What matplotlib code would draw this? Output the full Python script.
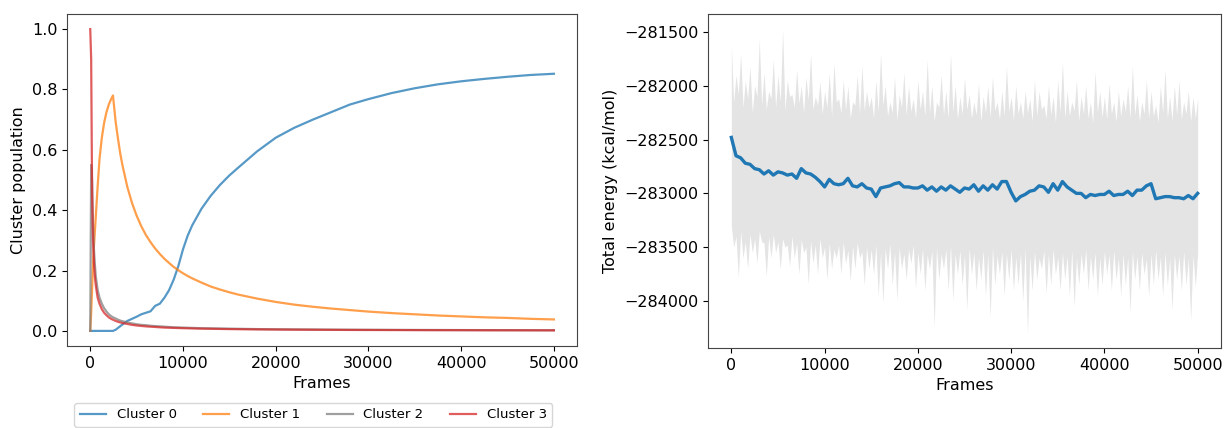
import numpy as np
import matplotlib
matplotlib.use("Agg")
from matplotlib import pyplot as plt

# ---- left panel: cluster populations vs frames ----
pop_frames = [0, 100, 200, 300, 400, 500, 600, 800, 1000, 1250, 1500, 1750, 2000, 2250, 2450,
              2750, 3000, 3250, 3500,
              4000, 4500, 5000, 5500, 6000, 6500, 7000, 7500, 8000, 8500, 9000, 9500, 10000,
              10500, 11000, 12000, 13000, 14000, 15000, 16000,
              18000, 20000, 22000, 24000, 26000, 28000, 30000,
              32500, 35000, 37500, 40000, 42500, 45000, 47500, 50000]

cluster0 = [0, 0, 0, 0, 0, 0, 0, 0, 0, 0, 0, 0, 0, 0, 0,
            0.004, 0.01, 0.016, 0.022,
            0.033, 0.04, 0.047, 0.055, 0.06, 0.065, 0.083, 0.09, 0.11, 0.135, 0.17, 0.215, 0.27,
            0.315, 0.35, 0.405, 0.448, 0.484, 0.515, 0.542,
            0.595, 0.64, 0.673, 0.70, 0.725, 0.75, 0.768,
            0.788, 0.804, 0.817, 0.827, 0.835, 0.842, 0.848, 0.852]

cluster1 = [0, 0.06, 0.14, 0.22, 0.28, 0.33, 0.38, 0.48, 0.57, 0.64, 0.69, 0.725, 0.75, 0.768, 0.78,
            0.69, 0.635, 0.585, 0.545,
            0.477, 0.424, 0.382, 0.347, 0.318, 0.294, 0.273, 0.255, 0.239, 0.225, 0.212, 0.201, 0.191,
            0.182, 0.174, 0.16, 0.147, 0.137, 0.128, 0.12,
            0.107, 0.096, 0.087, 0.08, 0.074, 0.069, 0.064,
            0.059, 0.055, 0.051, 0.048, 0.045, 0.043, 0.04, 0.038]

cluster2 = [0, 0.55, 0.5, 0.35, 0.27, 0.22, 0.18, 0.135, 0.11, 0.09, 0.075, 0.064, 0.055, 0.049, 0.045,
            0.041, 0.037, 0.034, 0.032,
            0.028, 0.025, 0.022, 0.02, 0.019, 0.017, 0.016, 0.015, 0.014, 0.013, 0.012, 0.0115, 0.011,
            0.0105, 0.01, 0.009, 0.0085, 0.008, 0.0075, 0.007,
            0.006, 0.0055, 0.005, 0.0046, 0.0042, 0.0039, 0.0037,
            0.0034, 0.0032, 0.003, 0.0028, 0.0026, 0.0025, 0.0023, 0.0022]

cluster3 = [1.0, 0.9, 0.45, 0.3, 0.225, 0.18, 0.15, 0.11, 0.09, 0.072, 0.06, 0.052, 0.045, 0.04, 0.037,
            0.033, 0.03, 0.028, 0.026,
            0.023, 0.02, 0.018, 0.0165, 0.015, 0.014, 0.013, 0.012, 0.011, 0.0105, 0.01, 0.0095, 0.009,
            0.0086, 0.0082, 0.0075, 0.007, 0.0065, 0.006, 0.0056,
            0.005, 0.0045, 0.0041, 0.0038, 0.0035, 0.0032, 0.003,
            0.0028, 0.0026, 0.0024, 0.0023, 0.0021, 0.002, 0.0019, 0.0018]

cluster_labels = ['Cluster 0', 'Cluster 1', 'Cluster 2', 'Cluster 3']

# ---- right panel: total energy ----
# spikes of the raw trace (tops at 0,500,..  bottoms at 250,750,..)
raw_top = [-281640, -281900, -281700, -281950, -281820, -282000, -281570, -281880, -282050, -281760,
           -281900, -281480, -281950, -282080, -281850, -282000, -281920, -281700, -282100, -281960,
           -282050, -281880, -281790, -282120, -281950, -282000, -282150, -281900, -281810, -282050,
           -282100, -281950, -281700, -282000, -282150, -281920, -282080, -281880, -282000, -282120,
           -281950, -282050, -281760, -282000, -282150, -281900, -282050, -281700, -282000, -282100,
           -281930, -282080, -282150, -281980, -282100, -282000, -281920, -282150, -282050, -281820,
           -282100, -282000, -282150, -282050, -282120, -281950, -282050, -282180, -282000, -282100,
           -281950, -281780, -282050, -282150, -281950, -282100, -282000, -282150, -281870, -282050,
           -282100, -281980, -282150, -282050, -282120, -282000, -281820, -282080, -282150, -281950,
           -282050, -282180, -282000, -281850, -282100, -282000, -281950, -282150, -282050, -282100,
           -282120]

raw_bottom = [-283500, -283780, -283600, -283700, -283550, -283650, -283450, -283770, -283600, -283550,
              -283700, -283500, -283680, -283600, -283750, -283550, -283840, -283650, -283750, -283600,
              -283800, -283700, -283600, -283750, -283650, -283810, -283700, -283600, -283850, -283700,
              -283750, -283950, -284020, -283700, -283850, -283990, -283700, -283800, -283650, -283880,
              -283750, -283900, -283700, -284250, -283800, -283700, -283900, -283990, -283750, -283850,
              -284080, -283750, -283900, -283800, -283950, -284150, -283850, -283750, -283950, -283800,
              -283900, -283850, -284000, -284300, -283900, -283800, -283700, -283930, -283850, -283750,
              -283900, -283800, -283950, -284050, -283850, -283750, -283900, -283800, -283950, -283850,
              -283750, -283900, -283800, -283950, -283850, -284110, -283800, -283900, -283750, -283950,
              -283850, -283800, -283950, -283850, -284080, -283800, -283900, -283850, -284180, -283870]

# dense core between the spikes (upper at 250,750,..  lower at 0,500,..)
core_top = [-282150, -282080, -282200, -282120, -282250, -282100, -282180, -282220, -282120, -282200,
            -282150, -282230, -282100, -282200, -282160, -282250, -282130, -282220, -282180, -282260,
            -282200, -282280, -282150, -282250, -282220, -282300, -282180, -282260, -282230, -282200,
            -282300, -282240, -282180, -282280, -282250, -282320, -282200, -282270, -282240, -282300,
            -282220, -282280, -282250, -282330, -282200, -282270, -282300, -282240, -282310, -282260,
            -282220, -282300, -282270, -282330, -282250, -282290, -282230, -282310, -282280, -282240,
            -282320, -282260, -282300, -282250, -282330, -282280, -282220, -282300, -282270, -282340,
            -282250, -282300, -282280, -282230, -282320, -282260, -282300, -282340, -282250, -282290,
            -282310, -282260, -282330, -282280, -282240, -282300, -282270, -282330, -282260, -282300,
            -282280, -282340, -282250, -282300, -282320, -282270, -282310, -282260, -282330, -282300]

core_bottom = [-283300, -283400, -283350, -283450, -283380, -283420, -283350, -283460, -283400, -283380,
               -283450, -283420, -283480, -283400, -283460, -283430, -283500, -283440, -283480, -283420,
               -283500, -283460, -283520, -283480, -283450, -283530, -283490, -283460, -283540, -283500,
               -283520, -283480, -283550, -283510, -283470, -283540, -283500, -283560, -283520, -283480,
               -283550, -283510, -283570, -283530, -283500, -283560, -283520, -283480, -283560, -283530,
               -283570, -283510, -283550, -283590, -283530, -283560, -283500, -283580, -283540, -283560,
               -283520, -283590, -283550, -283510, -283580, -283540, -283600, -283530, -283560, -283520,
               -283590, -283550, -283580, -283530, -283600, -283560, -283520, -283580, -283550, -283600,
               -283540, -283570, -283530, -283600, -283560, -283590, -283540, -283580, -283550, -283610,
               -283560, -283530, -283590, -283550, -283600, -283560, -283580, -283540, -283600, -283570,
               -283550]

avg_energy = [-282480, -282650, -282670, -282720, -282730, -282770, -282780, -282820, -282790, -282830,
              -282800, -282810, -282830, -282820, -282860, -282770, -282810, -282820, -282850, -282890,
              -282940, -282870, -282910, -282920, -282910, -282860, -282930, -282940, -282910, -282950,
              -282960, -283030, -282950, -282940, -282930, -282910, -282900, -282940, -282940, -282950,
              -282950, -282930, -282970, -282940, -282980, -282940, -282970, -282930, -282960, -282990,
              -282950, -282960, -282920, -282980, -282930, -282970, -282920, -282960, -282890, -282890,
              -282990, -283070, -283030, -283010, -282980, -282970, -282930, -282940, -282990, -282910,
              -282970, -282890, -282940, -282970, -283000, -283000, -283040, -283010, -283020, -283010,
              -283010, -282980, -283020, -283010, -283010, -282980, -283020, -282970, -282970, -282930,
              -282910, -283050, -283040, -283030, -283030, -283040, -283040, -283050, -283020, -283050,
              -283000]

step_frames = np.arange(0, 50001, 500)      # frames of raw_top, core_bottom, avg_energy
half_frames = np.arange(250, 50000, 500)    # frames of raw_bottom, core_top

plt.rcParams['font.family'] = 'DejaVu Sans'
plt.rcParams['font.size'] = 11.5

fig = plt.figure(figsize=(12.26, 4.28), dpi=100)
ax1 = fig.add_axes([0.0547, 0.1916, 0.416, 0.7757])
ax2 = fig.add_axes([0.5775, 0.1869, 0.4184, 0.7804])

colors = ['#1f77b4', '#ff7f0e', '#7f7f7f', '#d62728']
for ys, lab, c in zip([cluster0, cluster1, cluster2, cluster3], cluster_labels, colors):
    ax1.plot(pop_frames, ys, color=c, alpha=0.75, lw=1.6, label=lab)
ax1.set_xlabel('Frames')
ax1.set_ylabel('Cluster population')
ax1.set_xticks([0, 10000, 20000, 30000, 40000, 50000])
ax1.legend(loc='upper center', bbox_to_anchor=(0.483, -0.152), ncol=4, fontsize=9.5)

# raw trace: envelope built by interleaving the spikes with the dense core
env_x = np.empty(len(step_frames) + len(half_frames))
env_x[0::2] = step_frames
env_x[1::2] = half_frames
env_hi = np.empty_like(env_x)
env_hi[0::2] = raw_top
env_hi[1::2] = core_top
env_lo = np.empty_like(env_x)
env_lo[0::2] = core_bottom
env_lo[1::2] = raw_bottom
ax2.fill_between(env_x, env_lo, env_hi, color='#e4e4e4', lw=0)
ax2.plot(step_frames, avg_energy, color='#1f77b4', lw=2.4)
ax2.set_xlabel('Frames')
ax2.set_ylabel('Total energy (kcal/mol)')
ax2.set_xlim(-2500, 52500)
ax2.set_ylim(-284437, -281333)
ax2.set_xticks([0, 10000, 20000, 30000, 40000, 50000])
ax2.set_yticks([-281500, -282000, -282500, -283000, -283500, -284000])
ax2.ticklabel_format(axis='y', style='plain', useOffset=False)

for ax in (ax1, ax2):
    for s in ax.spines.values():
        s.set_color('#444444')

fig.savefig('out.png', dpi=100)
